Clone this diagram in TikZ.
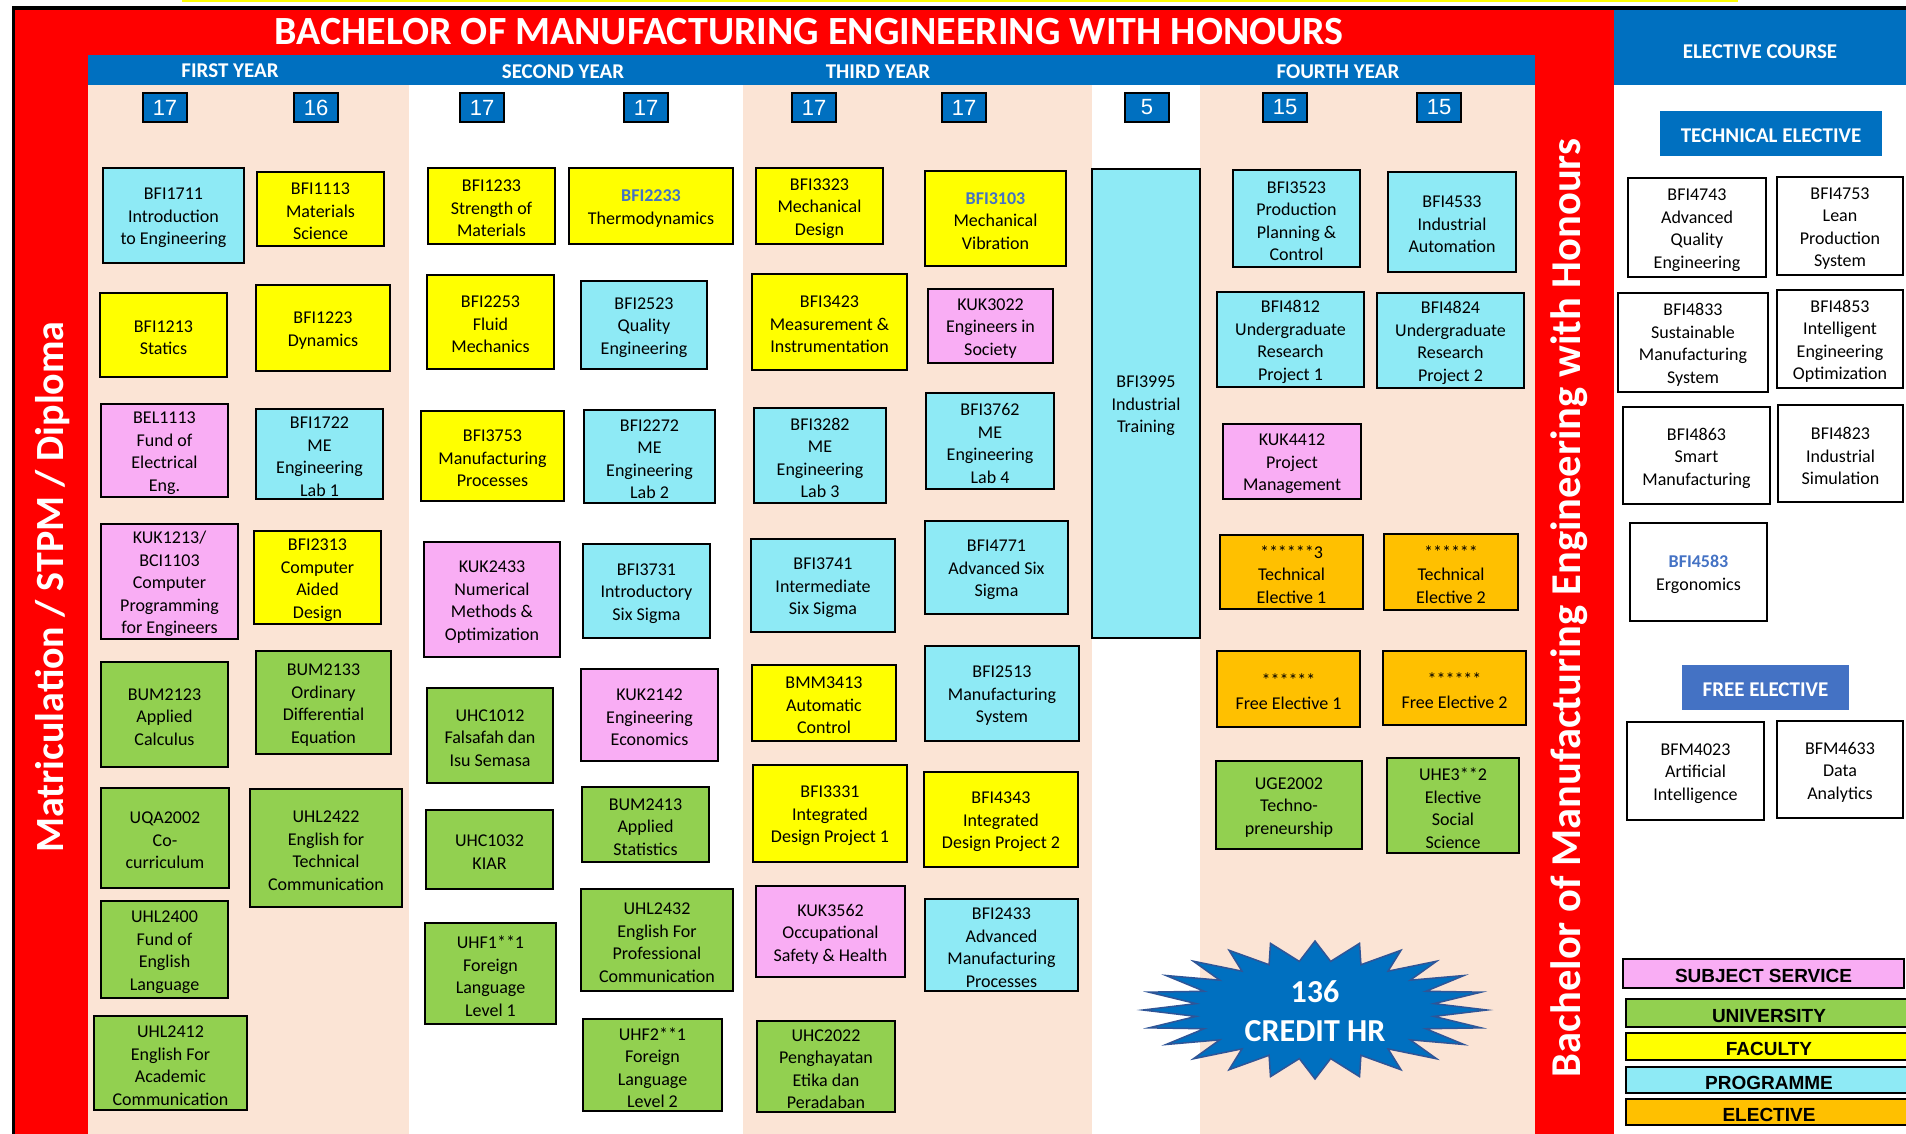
\documentclass[tikz,border=0pt]{standalone}
\usepackage{fontspec}
\setmainfont{Carlito}
\newfontfamily\arialfam{Liberation Sans}
\definecolor{hdrblue}{HTML}{0070C0}
\definecolor{freeblue}{HTML}{4472C4}
\definecolor{peach}{HTML}{FBE4D5}
\definecolor{progcyan}{HTML}{8EEAF5}
\definecolor{servpink}{HTML}{F9ADF4}
\definecolor{unigreen}{HTML}{92D050}
\definecolor{facyellow}{HTML}{FFFF00}
\definecolor{elecorange}{HTML}{FFC000}
\definecolor{codeblue}{HTML}{4472C4}
\definecolor{starline}{HTML}{2F5597}
\newcommand\coursefont{\fontsize{18}{22.5}\selectfont}
\newcommand\yearfont{\bfseries\fontsize{21}{25}\selectfont}
\newcommand\titlefont{\bfseries\fontsize{40}{46}\selectfont}
\newcommand\creditfont{\arialfam\fontsize{22}{26}\selectfont}
\newcommand\legendfont{\arialfam\bfseries\fontsize{19}{22}\selectfont}
\newcommand\sidefont[1]{\bfseries\fontsize{#1}{#1}\selectfont}
\newcommand\hlcode[1]{\textcolor{codeblue}{\textbf{#1}}}
% box from its corners: name, x1, y1, x2, y2, style, text
\newcommand\course[7]{%
  \node[box,#6,minimum width={#4-#2},minimum height={#5-#3}] (#1) at ({(#2+#4)/2},{(#3+#5)/2}) {};
  \node[boxtext,#6,fill=none,draw=none] (#1-text) at ([yshift=-2.5pt]#1.center) {#7};}
\begin{document}
\begin{tikzpicture}[x=1pt, y=-1pt,
         box/.style = {draw, line width=2.4pt, inner sep=0pt, align=center, font=\coursefont},
     boxtext/.style = {inner sep=0pt, align=center, font=\coursefont},
     faculty/.style = {fill=facyellow},
   programme/.style = {fill=progcyan},
     service/.style = {fill=servpink},
  university/.style = {fill=unigreen},
    elective/.style = {fill=elecorange},
      choice/.style = {fill=white},
      credit/.style = {draw, line width=1.6pt, fill=hdrblue, text=white, inner sep=0pt,
                       minimum width=44, minimum height=29, font=\creditfont},
   yearlabel/.style = {text=white, font=\yearfont},
     subhead/.style = {draw=none, text=white, font=\yearfont},
      legend/.style = {line width=1.6pt, font=\legendfont},
    sidetext/.style = {rotate=90, text=white},
       burst/.style = {fill=hdrblue, draw=starline, line width=1.5pt}
                    ]
\useasboundingbox (0,0) rectangle (1906,1134);
\clip (0,0) rectangle (1906,1134);
% background
\fill[white] (0,0) rectangle (1906,1134);
\fill[facyellow] (182,0) rectangle (1738,2);
\fill[red] (15,10) rectangle (1614,1134);
\fill[hdrblue] (1614,10) rectangle (1906,85);
\fill[hdrblue] (88,55) rectangle (1535,85);
\fill[white] (88,85) rectangle (1535,1134);
\fill[peach] (88,85) rectangle (409,1134);
\fill[peach] (743,85) rectangle (1092,1134);
\fill[peach] (1200,85) rectangle (1535,1134);
\draw[line width=3.5pt] (13.5,1140) -- (13.5,8) -- (1912,8);
% headings
\node[yearlabel, font=\titlefont] (title) at (809,32) {BACHELOR OF MANUFACTURING ENGINEERING WITH HONOURS};
\node[yearlabel] (yr1) at (230,71) {FIRST YEAR};
\node[yearlabel] (yr2) at (563,72) {SECOND YEAR};
\node[yearlabel] (yr3) at (878,72) {THIRD YEAR};
\node[yearlabel] (yr4) at (1338,72) {FOURTH YEAR};
\node[yearlabel] (elec) at (1760,52) {ELECTIVE COURSE};
\node[sidetext, font={\sidefont{40}}] (entry) at (53,587) {Matriculation / STPM / Diploma};
\node[sidetext, font={\sidefont{42.5}}] (degree) at (1569,608) {Bachelor of Manufacturing Engineering with Honours};
% credits per semester
\node[credit] (cr11) at (165,107.5) {17};
\node[credit] (cr12) at (316,107.5) {16};
\node[credit] (cr21) at (482,107.5) {17};
\node[credit] (cr22) at (646,107.5) {17};
\node[credit] (cr31) at (814,107.5) {17};
\node[credit] (cr32) at (964,107.5) {17};
\node[credit] (crit) at (1147,107.5) {5};
\node[credit] (cr41) at (1285,107.5) {15};
\node[credit] (cr42) at (1439,107.5) {15};
% first year
\course{bfi1711}{103}{168}{244}{263}{programme}{BFI1711\\Introduction\\to Engineering}
\course{bfi1213}{100}{293}{227}{377}{faculty}{BFI1213\\Statics}
\course{bel1113}{101}{404}{228}{497}{service}{BEL1113\\Fund of\\Electrical\\Eng.}
\course{kuk1213}{101}{524}{238}{639}{service}{KUK1213/\\BCI1103\\Computer\\Programming\\for Engineers}
\course{bum2123}{101}{662}{228}{767}{university}{BUM2123\\Applied\\Calculus}
\course{uqa2002}{101}{788}{229}{888}{university}{UQA2002\\Co-\\curriculum}
\course{uhl2400}{101}{901}{228}{998}{university}{UHL2400\\Fund of\\English\\Language}
\course{uhl2412}{94}{1016}{247}{1110}{university}{UHL2412\\English For\\Academic\\Communication}
\course{bfi1113}{257}{172}{384}{246}{faculty}{BFI1113\\Materials\\Science}
\course{bfi1223}{256}{285}{390}{371}{faculty}{BFI1223\\Dynamics}
\course{bfi1722}{256}{409}{383}{499}{programme}{BFI1722\\ME\\Engineering\\Lab 1}
\course{bfi2313}{254}{531}{381}{624}{faculty}{BFI2313\\Computer\\Aided\\Design}
\course{bum2133}{256}{651}{391}{754}{university}{BUM2133\\Ordinary\\Differential\\Equation}
\course{uhl2422}{250}{789}{402}{907}{university}{UHL2422\\English for\\Technical\\Communication}
% second year
\course{bfi1233}{428}{168}{555}{244}{faculty}{BFI1233\\Strength of\\Materials}
\course{bfi2253}{427}{275}{554}{369}{faculty}{BFI2253\\Fluid\\Mechanics}
\course{bfi3753}{421}{411}{564}{501}{faculty}{BFI3753\\Manufacturing\\Processes}
\course{kuk2433}{424}{542}{560}{657}{service}{KUK2433\\Numerical\\Methods \&\\Optimization}
\course{uhc1012}{427}{688}{553}{783}{university}{UHC1012\\Falsafah dan\\Isu Semasa}
\course{uhc1032}{426}{810}{553}{889}{university}{UHC1032\\KIAR}
\course{uhf1x1}{425}{923}{556}{1024}{university}{UHF1**1\\Foreign\\Language\\Level 1}
\course{bfi2233}{569}{168}{733}{244}{faculty}{\hlcode{BFI2233}\\Thermodynamics}
\course{bfi2523}{581}{281}{707}{369}{programme}{BFI2523\\Quality\\Engineering}
\course{bfi2272}{584}{410}{715}{503}{programme}{BFI2272\\ME\\Engineering\\Lab 2}
\course{bfi3731}{583}{544}{710}{638}{programme}{BFI3731\\Introductory\\Six Sigma}
\course{kuk2142}{581}{669}{718}{761}{service}{KUK2142\\Engineering\\Economics}
\course{bum2413}{582}{787}{709}{862}{university}{BUM2413\\Applied\\Statistics}
\course{uhl2432}{581}{889}{733}{991}{university}{UHL2432\\English For\\Professional\\Communication}
\course{uhf2x1}{583}{1019}{722}{1111}{university}{UHF2**1\\Foreign\\Language\\Level 2}
% third year
\course{bfi3323}{756}{168}{883}{244}{faculty}{BFI3323\\Mechanical\\Design}
\course{bfi3423}{752}{274}{907}{370}{faculty}{BFI3423\\Measurement \&\\Instrumentation}
\course{bfi3282}{754}{408}{886}{503}{programme}{BFI3282\\ME\\Engineering\\Lab 3}
\course{bfi3741}{751}{539}{895}{632}{programme}{BFI3741\\Intermediate\\Six Sigma}
\course{bmm3413}{752}{665}{896}{741}{faculty}{BMM3413\\Automatic\\Control}
\course{bfi3331}{753}{765}{907}{862}{faculty}{BFI3331\\Integrated\\Design Project 1}
\course{kuk3562}{756}{886}{905}{977}{service}{KUK3562\\Occupational\\Safety \& Health}
\course{uhc2022}{757}{1021}{895}{1112}{university}{UHC2022\\Penghayatan\\Etika dan\\Peradaban}
\course{bfi3103}{925}{171}{1066}{266}{faculty}{\hlcode{BFI3103}\\Mechanical\\Vibration}
\course{kuk3022}{928}{289}{1053}{363}{service}{KUK3022\\Engineers in\\Society}
\course{bfi3762}{926}{393}{1054}{489}{programme}{BFI3762\\ME\\Engineering\\Lab 4}
\course{bfi4771}{925}{521}{1068}{614}{programme}{BFI4771\\Advanced Six\\Sigma}
\course{bfi2513}{925}{646}{1079}{741}{programme}{BFI2513\\Manufacturing\\System}
\course{bfi4343}{924}{772}{1078}{867}{faculty}{BFI4343\\Integrated\\Design Project 2}
\course{bfi2433}{925}{899}{1078}{991}{programme}{BFI2433\\Advanced\\Manufacturing\\Processes}
% industrial training
\course{bfi3995}{1092}{169}{1200}{638}{programme}{BFI3995\\Industrial\\Training}
% fourth year
\course{bfi3523}{1233}{170}{1360}{267}{programme}{BFI3523\\Production\\Planning \&\\Control}
\course{bfi4812}{1217}{292}{1364}{387}{programme}{BFI4812\\Undergraduate\\Research\\Project 1}
\course{kuk4412}{1223}{424}{1361}{499}{service}{KUK4412\\Project\\Management}
\course{te1}{1220}{535}{1363}{609}{elective}{******3\\Technical\\Elective 1}
\course{fe1}{1217}{651}{1360}{727}{elective}{******\\Free Elective 1}
\course{uge2002}{1216}{761}{1362}{849}{university}{UGE2002\\Techno-\\preneurship}
\course{bfi4533}{1388}{172}{1516}{272}{programme}{BFI4533\\Industrial\\Automation}
\course{bfi4824}{1377}{293}{1524}{388}{programme}{BFI4824\\Undergraduate\\Research\\Project 2}
\course{te2}{1384}{534}{1518}{610}{elective}{******\\Technical\\Elective 2}
\course{fe2}{1383}{651}{1526}{725}{elective}{******\\Free Elective 2}
\course{uhe3x2}{1387}{758}{1519}{853}{university}{UHE3**2\\Elective\\Social\\Science}
% total credits
\draw[burst] plot[samples at={0,...,47}, variable=\k]
    ({1315+ifthenelse(mod(\k,2)==0,172,120)*cos(7.5*\k)}, {1010+ifthenelse(mod(\k,2)==0,69,49)*sin(7.5*\k)}) -- cycle;
\node[text=white, align=center, font=\bfseries\fontsize{32}{39}\selectfont] (total) at (1315,1011.5) {136\\CREDIT HR};
% elective courses
\course{techhead}{1660}{111}{1882}{156}{subhead,fill=hdrblue}{TECHNICAL ELECTIVE}
\course{bfi4743}{1628}{178}{1766}{277}{choice}{BFI4743\\Advanced\\Quality\\Engineering}
\course{bfi4753}{1777}{177}{1903}{275}{choice}{BFI4753\\Lean\\Production\\System}
\course{bfi4833}{1618}{293}{1768}{392}{choice}{BFI4833\\Sustainable\\Manufacturing\\System}
\course{bfi4853}{1777}{290}{1903}{388}{choice}{BFI4853\\Intelligent\\Engineering\\Optimization}
\course{bfi4863}{1623}{407}{1770}{504}{choice}{BFI4863\\Smart\\Manufacturing}
\course{bfi4823}{1778}{405}{1903}{502}{choice}{BFI4823\\Industrial\\Simulation}
\course{bfi4583}{1630}{523}{1767}{621}{choice}{\hlcode{BFI4583}\\Ergonomics}
\course{freehead}{1682}{665}{1849}{710}{subhead,fill=freeblue}{FREE ELECTIVE}
\course{bfm4023}{1627}{722}{1764}{820}{choice}{BFM4023\\Artificial\\Intelligence}
\course{bfm4633}{1777}{721}{1903}{818}{choice}{BFM4633\\Data\\Analytics}
% legend
\course{lgserv}{1623}{959}{1904}{988}{legend,service}{SUBJECT SERVICE}
\course{lguni}{1626}{999}{1912}{1027}{legend,university}{UNIVERSITY}
\course{lgfac}{1626}{1033}{1912}{1060}{legend,faculty}{FACULTY}
\course{lgprog}{1626}{1067}{1912}{1093}{legend,programme}{PROGRAMME}
\course{lgelec}{1626}{1099}{1912}{1125}{legend,elective}{ELECTIVE}
\end{tikzpicture}
\end{document}
